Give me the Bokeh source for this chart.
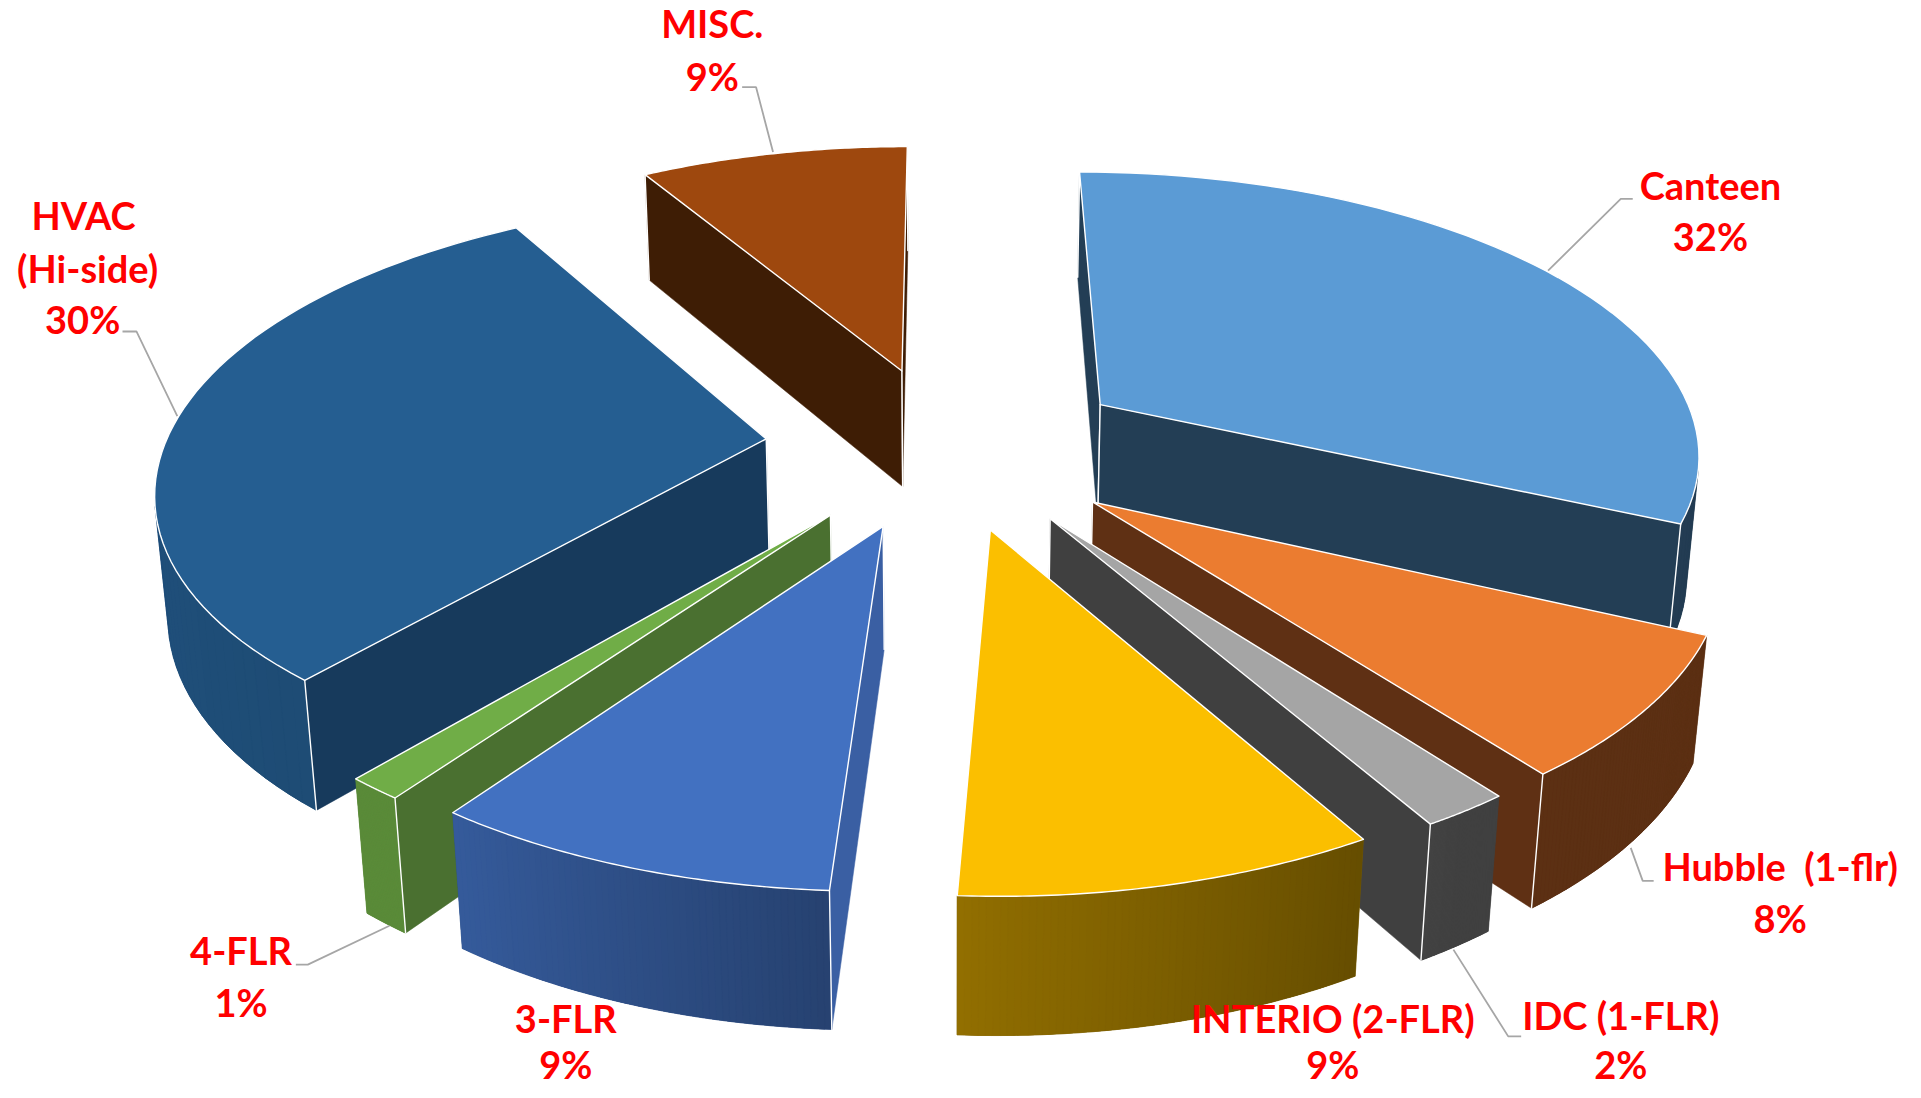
import numpy as np
from bokeh.plotting import figure
from bokeh.models import ColumnDataSource, Range1d
from bokeh.core.properties import value
from bokeh.embed import file_html
from bokeh.resources import INLINE

# ---- chart data -------------------------------------------------------
categories = ["Canteen", "Hubble  (1-flr)", "IDC (1-FLR)", "INTERIO (2-FLR)",
              "3-FLR", "4-FLR", "HVAC (Hi-side)", "MISC."]
shares = [31.87, 7.82, 1.99, 9.21, 9.0, 1.25, 30.31, 8.54]
percent_labels = ["32%", "8%", "2%", "9%", "9%", "1%", "30%", "9%"]
explode = [0.3112, 0.3026, 0.3005, 0.3025, 0.3025, 0.3022, 0.3013, 0.2883]
nudge = [-0.018, -0.005, 0.0, 0.007, 0.010, 0.0, 0.0, 0.0]
top_colors = ["#5B9BD5", "#EB7C30", "#A5A5A5", "#FBBF00", "#4271C1", "#70AD47", "#255E91", "#9E480E"]
cut_colors = ["#233E55", "#5F3014", "#404040", "#6B5200", "#3A5FA3", "#4A7030", "#173A5C", "#3E1D05"]

# ---- camera of the 3-D pie ---------------------------------------------
CX, CY, SCALE, ASPECT, DIST, ELEV, DEPTH, FIRST = 772.1437, 364.2982, 490.3633, 1.0474, 5.7903, 0.4607, 0.2146, -0.0008
PX = 1921 / 1560

def project(x, y, z):
    x, y, z = np.asarray(x, float), np.asarray(y, float), np.broadcast_to(z, np.shape(x))
    Y = y * np.sin(ELEV) + z * np.cos(ELEV)
    Z = DIST + y * np.cos(ELEV) - z * np.sin(ELEV)
    return (CX + SCALE * DIST * x / Z) * PX, (CY - SCALE * ASPECT * DIST * Y / Z) * PX

cam = np.array([0.0, -DIST * np.cos(ELEV), DIST * np.sin(ELEV)])

def rgb(col, f):
    c = [int(col[i:i + 2], 16) for i in (1, 3, 5)]
    return "#%02X%02X%02X" % tuple(int(round(v * f)) for v in c)

def wall_factor(theta):
    phi = 180 - np.degrees(theta) % 360
    return float(np.interp(phi, [-130, -35, 0, 33, 60], [0.90, 0.80, 0.56, 0.39, 0.39]))

w = np.array(shares) / sum(shares)
edges = FIRST + 2 * np.pi * np.r_[0, np.cumsum(w)]
mids = (edges[:-1] + edges[1:]) / 2
apx = np.array(explode) * np.sin(mids)
apy = np.array(explode) * np.cos(mids) + np.array(nudge)

pxs, pys, fill, falpha, lcol, lw = [], [], [], [], [], []
def add(a, b, col, alpha=1.0, line="#FFFFFF", width=1.4):
    pxs.append(np.round(a, 2).tolist()); pys.append(np.round(b, 2).tolist())
    fill.append(col); falpha.append(alpha); lcol.append(line); lw.append(width)

def vertical(x0, y0):
    a, b = project([x0, x0], [y0, y0], 0.0)
    a2, b2 = project([x0, x0], [y0, y0], -DEPTH)
    add([a[0], a2[0]], [b[0], b2[0]], "#FFFFFF", 0.0)

for i in sorted(range(len(shares)), key=lambda k: -apy[k]):
    ts, te = edges[i], edges[i + 1]
    ax, ay = apx[i], apy[i]
    t = np.linspace(ts, te, 61)
    rx, ry = ax + np.sin(t), ay + np.cos(t)
    # curved outer wall
    vis = []
    for k in range(len(t) - 1):
        tm = (t[k] + t[k + 1]) / 2
        px, py = ax + np.sin(tm), ay + np.cos(tm)
        if np.sin(tm) * (cam[0] - px) + np.cos(tm) * (cam[1] - py) > 0:
            vis.append(k)
    if vis:
        k0, k1 = vis[0], vis[-1] + 2
        a1, b1 = project(rx[k0:k1], ry[k0:k1], 0.0)
        a2, b2 = project(rx[k0:k1][::-1], ry[k0:k1][::-1], -DEPTH)
        base = rgb(top_colors[i], wall_factor(t[(k0 + k1) // 2]))
        add(np.r_[a1, a2], np.r_[b1, b2], base, 1.0, base, 0.5)
        for k in vis:
            tm = (t[k] + t[k + 1]) / 2
            e = min(k + 3, k1)
            a1, b1 = project(rx[k:e], ry[k:e], 0.0)
            a2, b2 = project(rx[k:e][::-1], ry[k:e][::-1], -DEPTH)
            c = rgb(top_colors[i], wall_factor(tm))
            add(np.r_[a1, a2], np.r_[b1, b2], c, 1.0, c, 0.2)
    # cut faces
    for th, nrm in ((ts, (-np.cos(ts), np.sin(ts))), (te, (np.cos(te), -np.sin(te)))):
        ex, ey = ax + np.sin(th), ay + np.cos(th)
        v = cam - np.array([ax, ay, 0.0])
        if nrm[0] * v[0] + nrm[1] * v[1] > 0:
            a1, b1 = project([ax, ex], [ay, ey], 0.0)
            a2, b2 = project([ex, ax], [ey, ay], -DEPTH)
            add(np.r_[a1, a2], np.r_[b1, b2], cut_colors[i], 1.0, cut_colors[i], 0.5)
            vertical(ax, ay)
            vertical(ex, ey)
    # top
    a, b = project(np.r_[ax, rx], np.r_[ay, ry], 0.0)
    add(a, b, top_colors[i])

p = figure(width=1905, height=1090, output_backend="svg", toolbar_location=None,
           x_range=Range1d(1.53, 1913.8), y_range=Range1d(1095.3, 2.03), min_border=0)
p.axis.visible = False
p.grid.visible = False
p.outline_line_color = None
p.background_fill_color = "#FFFFFF"

p.patches("x", "y", source=ColumnDataSource(dict(x=pxs, y=pys, fc=fill, fa=falpha, lc=lcol, lw=lw)),
          fill_color="fc", fill_alpha="fa", line_color="lc", line_width="lw", line_join="round")

# ---- leader lines and labels (positions in reference pixels) -------------
leaders = [([777, 760, 746], [154, 89, 89]),
           ([1555, 1628, 1640], [273, 201, 201]),
           ([179, 138, 124], [419, 334, 334]),
           ([1638, 1650, 1661], [852, 885, 885]),
           ([1460, 1515, 1528], [954, 1041, 1041]),
           ([392, 310, 298], [930, 969, 969])]
p.multi_line([l[0] for l in leaders], [l[1] for l in leaders], line_color="#A6A6A6", line_width=1.8)

label_rows = [("Canteen", 1718, 187), ("32%", 1718, 238),
              ("Hubble\u00a0 (1-flr)", 1788, 870.5), ("8%", 1788, 922.5),
              ("IDC (1-FLR)", 1628, 1020), ("2%", 1628, 1069),
              ("INTERIO (2-FLR)", 1339, 1023), ("9%", 1339, 1069),
              ("3-FLR", 569, 1023), ("9%", 569, 1069),
              ("4-FLR", 243, 954.5), ("1%", 243, 1007),
              ("HVAC", 85, 217), ("(Hi-side)", 89, 270), ("30%", 84, 321),
              ("MISC.", 716, 25), ("9%", 716, 78)]
p.text([r[1] for r in label_rows], [r[2] for r in label_rows], text=[r[0] for r in label_rows],
       text_font=value("Lato"), text_font_style="bold", text_font_size="38px",
       text_color="#FF0000", text_align="center", text_baseline="middle")

html = file_html(p, INLINE)
html = html.replace("</head>", "<style>html{overflow:hidden}</style></head>", 1)
open("out.html", "w").write(html)
